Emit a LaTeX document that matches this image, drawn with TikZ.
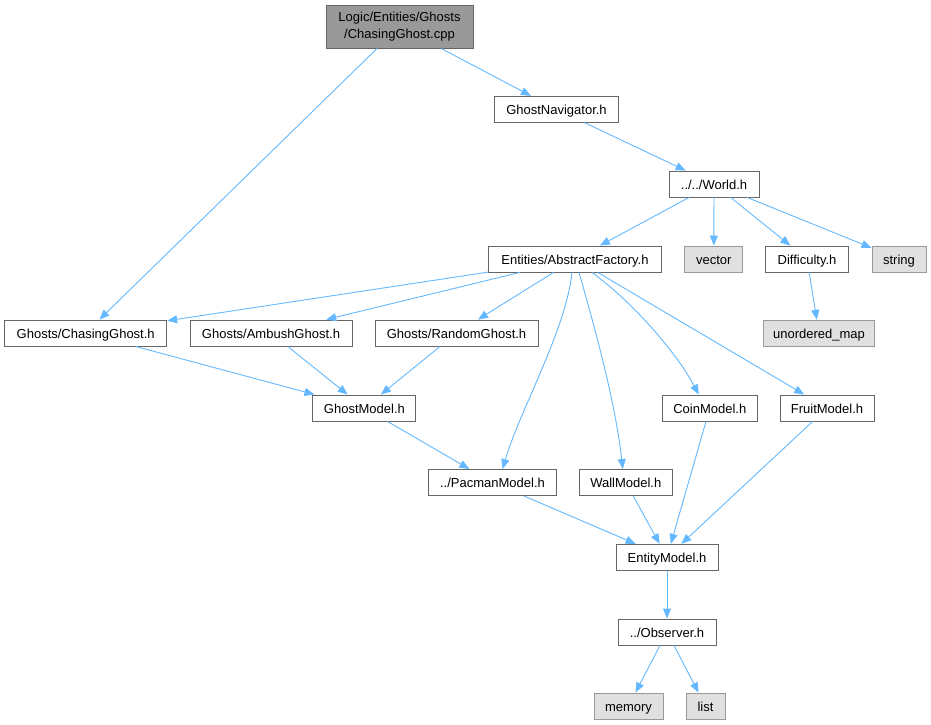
\documentclass[tikz,border=0pt]{standalone}
\usepackage{fontspec}
\setmainfont{Liberation Sans}
\usetikzlibrary{arrows.meta}
\definecolor{edgeblue}{HTML}{63B8FF}
\definecolor{boxline}{HTML}{666666}
\definecolor{sysfill}{HTML}{E0E0E0}
\definecolor{sysline}{HTML}{999999}
\definecolor{mainfill}{HTML}{999999}
\begin{document}
\begin{tikzpicture}[x=1pt,y=-1pt]
    \tikzset{hdr/.style={draw=boxline,line width=0.9pt,fill=white,minimum height=26pt,inner sep=0pt,text height=11pt,text depth=1pt,font=\fontsize{13}{16.5}\selectfont}};
    \tikzset{syshdr/.style={hdr,draw=sysline,fill=sysfill}};
    \tikzset{mainsrc/.style={hdr,fill=mainfill,minimum height=43pt,text height=,text depth=,align=center}};
    \tikzset{dep/.style={draw=edgeblue,line width=0.9pt,-{Triangle[length=10pt,width=8pt]}}};
    \useasboundingbox (0,0) rectangle (931,725);
    % files
    \node[mainsrc,minimum width=147pt] (root) at (399.5,26.5) {\raisebox{-2pt}{Logic/Entities/Ghosts}\\\raisebox{-2pt}{/ChasingGhost.cpp}};
    \node[hdr,minimum width=124pt] (nav) at (556.5,109.3) {GhostNavigator.h};
    \node[hdr,minimum width=90pt] (world) at (714,184) {../../World.h};
    \node[hdr,minimum width=173pt] (af) at (575,259) {Entities/AbstractFactory.h};
    \node[syshdr,minimum width=58pt] (vec) at (713.8,259) {vector};
    \node[hdr,minimum width=83pt] (diff) at (807,259) {Difficulty.h};
    \node[syshdr,minimum width=54pt] (str) at (899,259) {string};
    \node[syshdr,minimum width=111pt] (umap) at (819,333.3) {unordered\_map};
    \node[hdr,minimum width=162pt] (chase) at (85.7,333) {Ghosts/ChasingGhost.h};
    \node[hdr,minimum width=162pt] (ambush) at (271,333) {Ghosts/AmbushGhost.h};
    \node[hdr,minimum width=163pt] (random) at (456.5,333) {Ghosts/RandomGhost.h};
    \node[hdr,minimum width=103pt] (gmodel) at (364.4,408) {GhostModel.h};
    \node[hdr,minimum width=95pt] (coin) at (709.8,408) {CoinModel.h};
    \node[hdr,minimum width=94pt] (fruit) at (827,408) {FruitModel.h};
    \node[hdr,minimum width=128pt] (pacman) at (492.5,482.5) {../PacmanModel.h};
    \node[hdr,minimum width=93pt] (wall) at (625.8,482.5) {WallModel.h};
    \node[hdr,minimum width=102pt] (entity) at (667,557.3) {EntityModel.h};
    \node[hdr,minimum width=98pt] (observer) at (667,632) {../Observer.h};
    \node[syshdr,minimum width=69pt] (memory) at (628.5,706) {memory};
    \node[syshdr,minimum width=39pt] (list) at (705.5,706) {list};
    % includes
    \draw[dep] (root) -- (nav);
    \draw[dep] (root) -- (chase);
    \draw[dep] (nav) -- (world);
    \draw[dep] (world) -- (af);
    \draw[dep] (world) -- (vec);
    \draw[dep] (world) -- (diff);
    \draw[dep] (world) -- (str);
    \draw[dep] (diff) -- (umap);
    \draw[dep] (af) -- (chase);
    \draw[dep] (af) -- (ambush);
    \draw[dep] (af) -- (random);
    \draw[dep] ([xshift=-3pt]af.south) .. controls (566,330) and (520,410) .. ([xshift=10pt]pacman.north);
    \draw[dep] ([xshift=4pt]af.south) .. controls (594,325) and (615,400) .. ([xshift=-3pt]wall.north);
    \draw[dep] ([xshift=17pt]af.south) .. controls (630,300) and (675,350) .. ([xshift=-11pt]coin.north);
    \draw[dep] (af) -- (fruit);
    \draw[dep] (chase) -- (gmodel);
    \draw[dep] (ambush) -- (gmodel);
    \draw[dep] (random) -- (gmodel);
    \draw[dep] (gmodel) -- (pacman);
    \draw[dep] (pacman) -- (entity);
    \draw[dep] (wall) -- (entity);
    \draw[dep] (coin) -- (entity);
    \draw[dep] (fruit) -- (entity);
    \draw[dep] (entity) -- (observer);
    \draw[dep] (observer) -- (memory);
    \draw[dep] (observer) -- (list);
\end{tikzpicture}
\end{document}
